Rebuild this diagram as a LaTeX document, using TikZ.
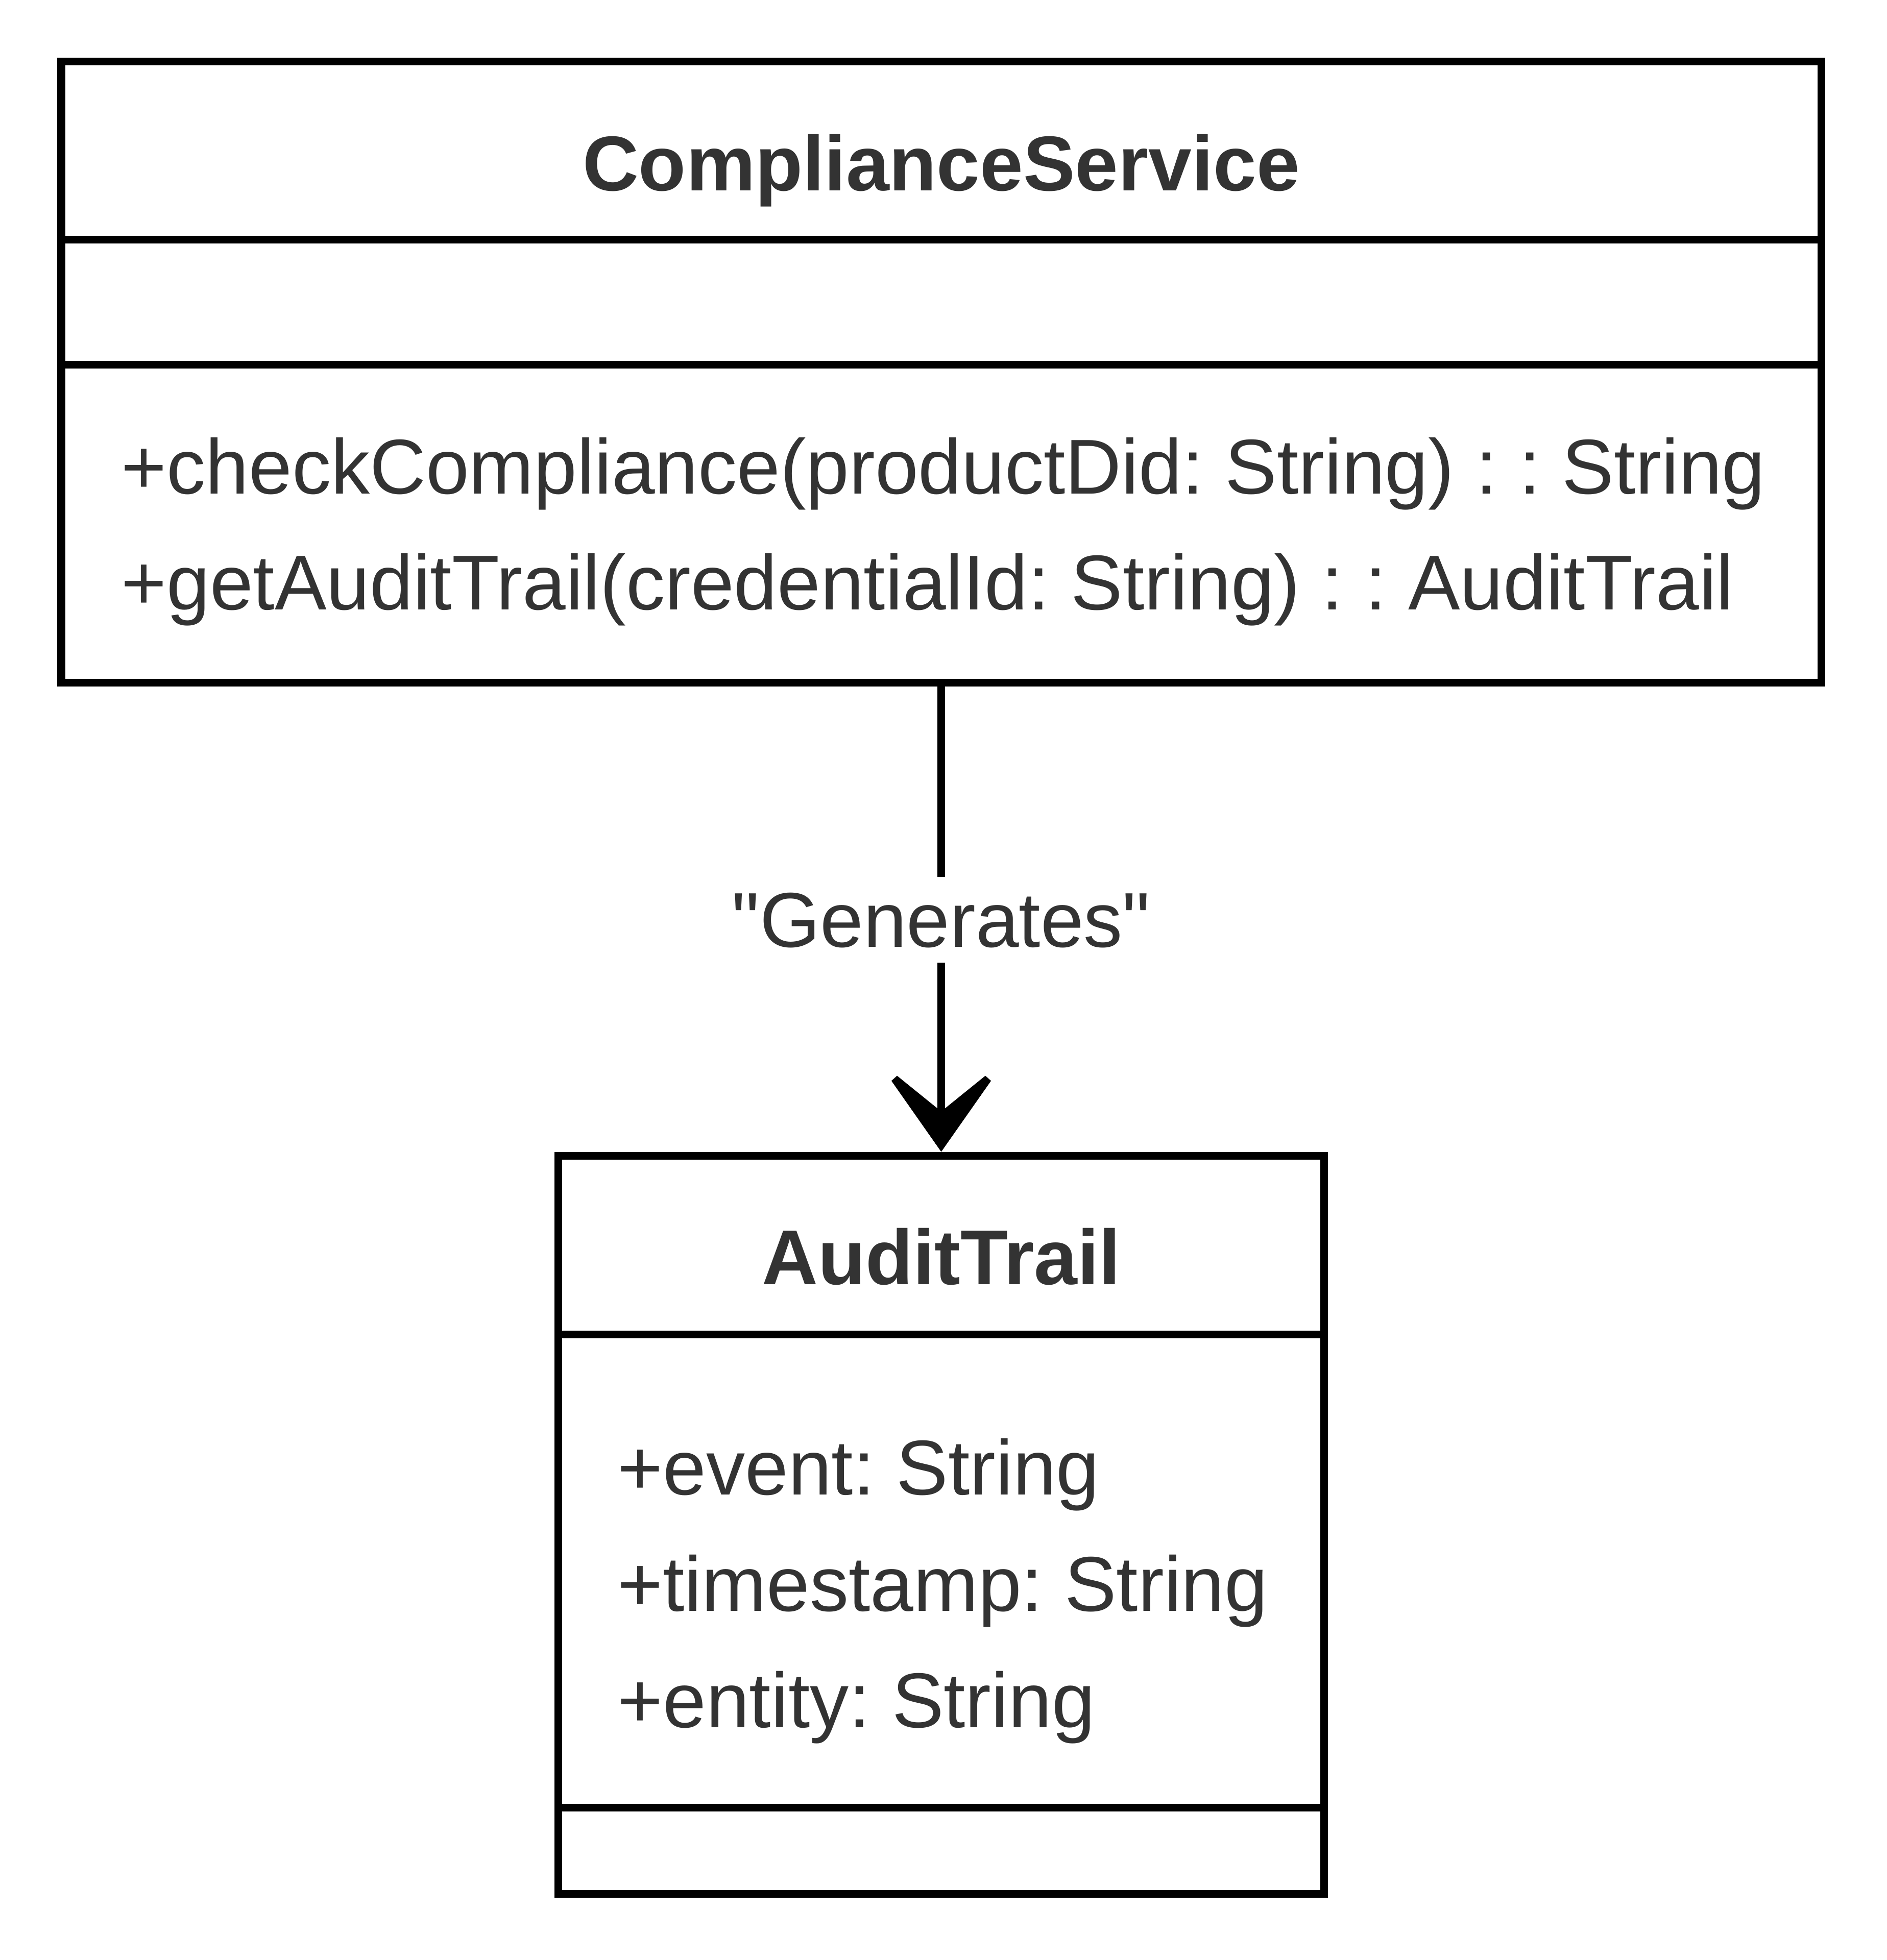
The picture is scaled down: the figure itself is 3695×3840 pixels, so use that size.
\documentclass[tikz,border=0pt]{standalone}
\usepackage{fontspec}
\setmainfont{Liberation Sans}[Ligatures=TeXOff]
\usetikzlibrary{calc}
\definecolor{txt}{HTML}{333333}
\frenchspacing
\begin{document}
\begin{tikzpicture}[x=0.01cm, y=-0.01cm,
  classbox/.style={draw=black, line width=0.15cm, fill=white, inner sep=0pt, outer sep=0pt},
  divider/.style={draw=black, line width=0.15cm},
  titletext/.style={inner sep=0pt, text=txt, font=\fontsize{43.3}{52}\selectfont\bfseries},
  bodytext/.style={inner sep=0pt, text=txt, font=\fontsize{43.3}{52}\selectfont\frenchspacing},
  edgelabel/.style={inner sep=0pt, fill=white, text=txt, font=\fontsize{43.3}{52}\selectfont, text height=1.38cm, text depth=0.30cm},
  conn/.style={draw=black, line width=0.15cm, shorten >=0.85cm},
  headfill/.style={fill=black}]
\fill[white] (0,0) rectangle (3695,3840);
\useasboundingbox (0,0) rectangle (3695,3840);

% class boxes
\node[classbox, minimum width=34.45cm, minimum height=12.16cm] (cs) at (1843.5,729) {};
\node[classbox, minimum width=14.99cm, minimum height=14.45cm] (at) at (1843.5,2987.5) {};

% compartment dividers
\draw[divider] ($(cs.north west)+(0,349)$) -- ($(cs.north east)+(0,349)$);
\draw[divider] ($(cs.north west)+(0,594)$) -- ($(cs.north east)+(0,594)$);
\draw[divider] ($(at.north west)+(0,350)$) -- ($(at.north east)+(0,350)$);
\draw[divider] ($(at.north west)+(0,1277)$) -- ($(at.north east)+(0,1277)$);

% texts
\node[titletext, anchor=base] (csname) at (1843.5,374) {ComplianceService};
\node[bodytext, anchor=base west] (m1) at (237,967) {+checkCompliance(productDid: String) : : String};
\node[bodytext, anchor=base west] (m2) at (237,1194) {+getAuditTrail(credentialId: String) : : AuditTrail};

\node[titletext, anchor=base] (atname) at (1843.5,2516) {AuditTrail};
\node[bodytext, anchor=base west] (a1) at (1209,2928) {+event: String};
\node[bodytext, anchor=base west] (a2) at (1209,3156) {+timestamp: String};
\node[bodytext, anchor=base west] (a3) at (1209,3384) {+entity: String};

% connector
\draw[conn] (cs.south) -- (at.north) node[edgelabel, pos=0.5593, anchor=base] (lbl) {"Generates"};
\fill[headfill] ([shift={(0,-8)}]at.north) -- ([shift={(-97.5,-147)}]at.north) -- ([shift={(-86.5,-157)}]at.north) -- ([shift={(0,-87)}]at.north) -- ([shift={(86.5,-157)}]at.north) -- ([shift={(97.5,-147)}]at.north) -- cycle;
\end{tikzpicture}
\end{document}
